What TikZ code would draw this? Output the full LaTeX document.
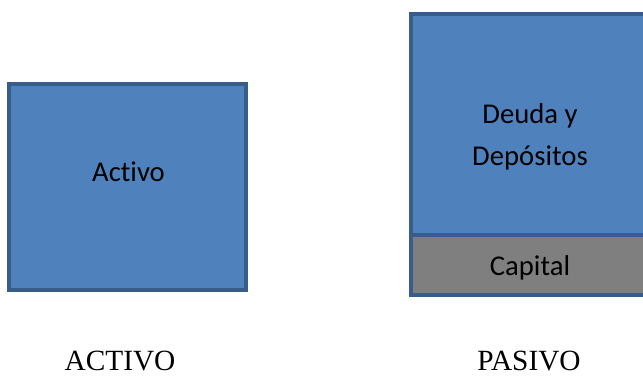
\documentclass[tikz,border=0pt]{standalone}
\usepackage{fontspec}
\setmainfont{Liberation Serif}
\newfontfamily\boxfont[Ligatures=NoCommon]{Carlito}
\definecolor{boxfill}{HTML}{4F81BD}
\definecolor{boxline}{HTML}{385D8A}
\definecolor{capfill}{HTML}{7F7F7F}
\begin{document}
\begin{tikzpicture}[x=0.75pt,y=-0.75pt,
  block/.style={draw=boxline, line width=3pt, fill=boxfill, inner sep=0pt},
  capblock/.style={draw=boxline, line width=3pt, fill=capfill, inner sep=0pt},
  intext/.style={font=\boxfont\fontsize{21.5}{31.5}\selectfont, align=center, inner sep=0pt, anchor=base},
  caption/.style={font=\fontsize{22}{26}\selectfont, inner sep=0pt, anchor=base}]
  \useasboundingbox (0,0) rectangle (643,376);
  \clip (0,0) rectangle (643,376);

  % assets block
  \node[block, minimum width=177.75pt, minimum height=154.5pt] (activo)
    at (127.5,187) {};
  \node[intext] (activoTxt) at (128.5,181) {Activo};

  % liabilities: debt and deposits above, capital below
  \node[block, minimum width=178.5pt, minimum height=165.75pt] (deuda)
    at (530,124.5) {};
  \node[capblock, minimum width=178.5pt, minimum height=45pt] (capital)
    at (530,265) {};
  \node[intext] (deudaTxt) at (530,165) {Deuda y\\Depósitos};
  \node[intext] (capitalTxt) at (530,275) {Capital};

  % captions
  \node[caption] (capA) at (120,370) {ACTIVO};
  \node[caption] (capP) at (529,370) {PASIVO};
\end{tikzpicture}
\end{document}
